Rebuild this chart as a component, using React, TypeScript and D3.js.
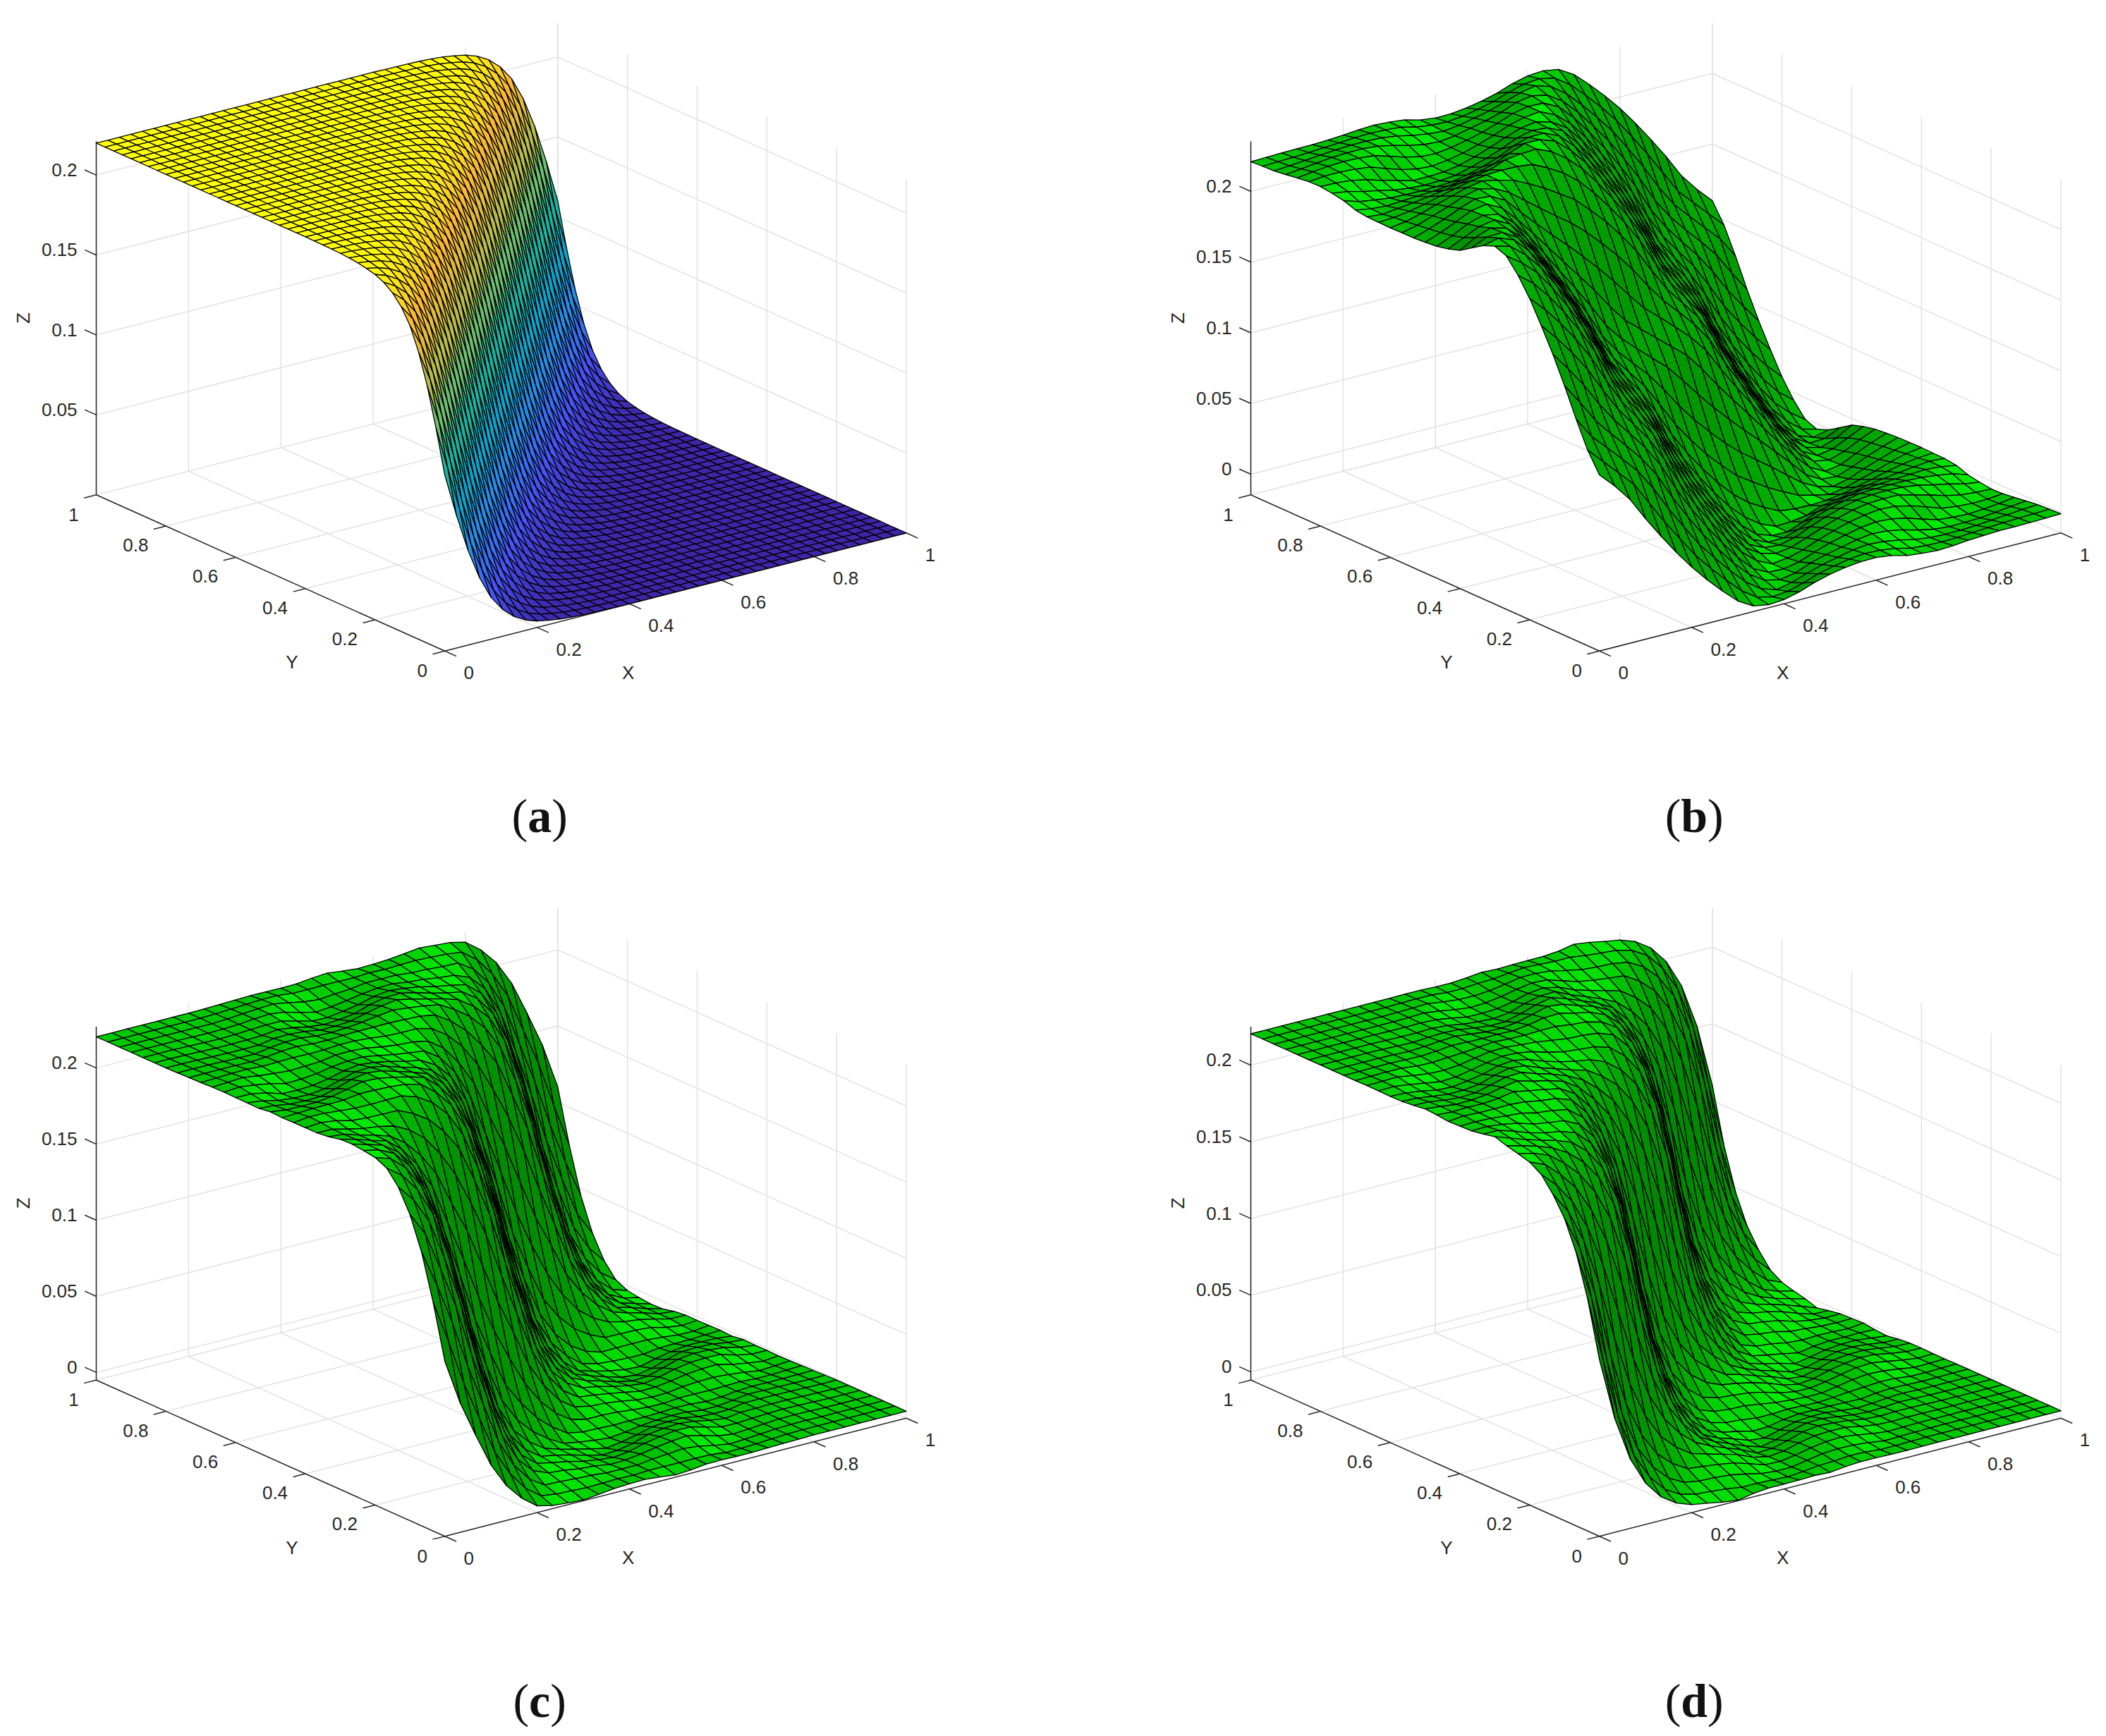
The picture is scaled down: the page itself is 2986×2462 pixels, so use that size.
import React, { useRef, useEffect } from "react";
import * as d3 from "d3";

// axis ticks
const xyTicks = [0, 0.2, 0.4, 0.6, 0.8, 1];
const zTicksA = [0.05, 0.1, 0.15, 0.2];
const zTicksB = [0, 0.05, 0.1, 0.15, 0.2];
const zTickLabels: Record<string, string> = { "0": "0", "0.05": "0.05", "0.1": "0.1", "0.15": "0.15", "0.2": "0.2" };

// height of the step read across the front, s = y - x (s >= 0, the other side is the mirror image)
const stopsA = [0, 0.02, 0.04, 0.06, 0.08, 0.1, 0.12, 0.14, 0.16, 0.18, 0.2, 0.24, 0.28, 0.32, 0.4, 1];
const stepA = [0.11, 0.1317, 0.1518, 0.1691, 0.183, 0.1938, 0.2017, 0.2074, 0.2114, 0.2142, 0.216, 0.2182, 0.2192, 0.2197, 0.22, 0.22];

const stopsB = [0, 0.05, 0.1, 0.15, 0.2, 0.25, 0.3, 0.35, 0.4, 0.45, 0.5, 0.55, 0.6, 0.65, 0.7, 0.75, 0.8, 0.85, 0.9, 1];
const stepB = [0.11, 0.128, 0.155, 0.178, 0.198, 0.216, 0.23, 0.235, 0.231, 0.225, 0.2205, 0.2175, 0.2165, 0.219, 0.224, 0.226, 0.225, 0.223, 0.2215, 0.221];

const stopsC = [0, 0.03, 0.05, 0.08, 0.12, 0.15, 0.19, 0.24, 0.3, 0.35, 0.4, 0.45, 0.5, 0.55, 0.6, 0.7, 1];
const stepC = [0.11, 0.14, 0.155, 0.18, 0.2003, 0.21, 0.2185, 0.2205, 0.2235, 0.223, 0.2205, 0.219, 0.2195, 0.2215, 0.2215, 0.2205, 0.2205];

const stopsD = [0, 0.02, 0.05, 0.08, 0.1, 0.13, 0.16, 0.2, 0.25, 0.3, 0.35, 0.4, 0.45, 0.5, 0.6, 1];
const stepD = [0.11, 0.135, 0.165, 0.185, 0.195, 0.205, 0.2125, 0.216, 0.219, 0.2235, 0.2225, 0.2205, 0.219, 0.2195, 0.2205, 0.2205];

// sideways wander of the front along t = x + y - 1 (t from -1 to 1)
const frontB = [0, 0.012, 0.028, 0.04, 0.038, 0.02, -0.005, -0.03, -0.045, -0.035, 0, 0.035, 0.045, 0.03, 0.005, -0.02, -0.038, -0.04, -0.028, -0.012, 0];
const frontC = [0, 0.01, 0.02, 0.015, -0.01, -0.025, -0.015, 0.012, 0.028, 0.018, 0, -0.018, -0.028, -0.012, 0.015, 0.025, 0.01, -0.015, -0.02, -0.01, 0];
const frontD = [0, -0.008, -0.015, -0.005, 0.012, 0.022, 0.012, -0.01, -0.024, -0.015, 0, 0.015, 0.024, 0.01, -0.012, -0.022, -0.012, 0.005, 0.015, 0.008, 0];

// ripple: size across the front and its strength along it
const swellStops = [0, 0.1, 0.2, 0.3, 0.4, 0.5, 0.6, 0.7, 0.8, 1];
const swellB = [0, 0.004, 0.008, 0.006, -0.004, -0.006, -0.004, 0.002, 0.002, 0];
const swellC = [0, 0.002, 0.005, 0.005, -0.003, -0.005, 0.002, 0.001, 0, 0];
const swellD = [0, 0.002, 0.005, 0.004, -0.003, -0.004, 0.001, 0, 0, 0];
const waveB = [0, 0.3, 0.6, 0.9, 0.6, 0, -0.5, -0.7, -0.2, 0.6, 1, 0.6, -0.2, -0.7, -0.5, 0, 0.6, 0.9, 0.6, 0.3, 0];
const waveC = [0, 0.4, 0.9, 0.4, -0.6, -0.8, 0, 0.9, 0.6, -0.5, -0.9, -0.5, 0.6, 0.9, 0, -0.8, -0.6, 0.4, 0.9, 0.4, 0];
const waveD = [0, 0.3, 0.8, 0.5, -0.5, -0.9, -0.1, 0.8, 0.8, -0.3, -0.9, -0.3, 0.8, 0.8, -0.1, -0.9, -0.5, 0.5, 0.8, 0.3, 0];

const parula = ["#3e26a8", "#4752f4", "#2a87ee", "#09a4d0", "#19b5a0", "#72be6e", "#cbbc3e", "#fbb92f", "#ffff05"];

const PLATEAU = 0.22;
const BOX_H = 501.3;
const xVec = { dx: 654.3, dy: -167.5 };
const yVec = { dx: -494.2, dy: -221.5 };

const panels = [
    { cap: "a", ox: 630.7, oy: 923.3, zDomain: [0, 0.2211], zTicks: zTicksA, cells: 40, stops: stopsA, step: stepA, front: null, swell: null, wave: null },
    { cap: "b", ox: 2267.7, oy: 923.3, zDomain: [-0.0146, 0.2354], zTicks: zTicksB, cells: 30, stops: stopsB, step: stepB, front: frontB, swell: swellB, wave: waveB },
    { cap: "c", ox: 630.7, oy: 2178.7, zDomain: [-0.005, 0.2272], zTicks: zTicksB, cells: 30, stops: stopsC, step: stepC, front: frontC, swell: swellC, wave: waveC },
    { cap: "d", ox: 2267.7, oy: 2178.7, zDomain: [-0.0053, 0.2252], zTicks: zTicksB, cells: 30, stops: stopsD, step: stepD, front: frontD, swell: swellD, wave: waveD },
];

const FONT = "'Liberation Sans', Arial, sans-serif";

export default function App() {
    const ref = useRef<SVGSVGElement | null>(null);

    useEffect(() => {
        if (!ref.current) return;
        const svg = d3.select(ref.current);
        svg.selectAll("*").remove();

        const lightLevel = d3.scaleLinear().domain([0.3, 0.63, 0.943, 1]).range([0.45, 0.62, 0.78, 0.92]).clamp(true);
        const L = [0.236, -0.236, 0.943];
        const zColor = d3.scaleLinear<string>()
            .domain(parula.map((_, i) => i / (parula.length - 1)))
            .range(parula)
            .clamp(true);

        panels.forEach((p) => {
            const g = svg.append("g");
            const xdx = d3.scaleLinear().domain([0, 1]).range([0, xVec.dx]);
            const xdy = d3.scaleLinear().domain([0, 1]).range([0, xVec.dy]);
            const ydx = d3.scaleLinear().domain([0, 1]).range([0, yVec.dx]);
            const ydy = d3.scaleLinear().domain([0, 1]).range([0, yVec.dy]);
            const zh = d3.scaleLinear().domain(p.zDomain).range([0, BOX_H]);
            const zMin = p.zDomain[0];
            const zMax = p.zDomain[1];

            const project = (x: number, y: number, z: number): [number, number] => [
                p.ox + xdx(x) + ydx(y),
                p.oy + xdy(x) + ydy(y) - zh(z),
            ];
            const seg = (a: [number, number], b: [number, number], color: string, w = 1.5) =>
                g.append("line")
                    .attr("x1", a[0]).attr("y1", a[1])
                    .attr("x2", b[0]).attr("y2", b[1])
                    .attr("stroke", color).attr("stroke-width", w);

            // back walls and floor
            const grid = "#e2e2e2";
            xyTicks.forEach((t) => {
                seg(project(t, 0, zMin), project(t, 1, zMin), grid);
                seg(project(0, t, zMin), project(1, t, zMin), grid);
                seg(project(t, 1, zMin), project(t, 1, zMax), grid);
                seg(project(1, t, zMin), project(1, t, zMax), grid);
            });
            p.zTicks.forEach((z) => {
                seg(project(0, 1, z), project(1, 1, z), grid);
                seg(project(1, 1, z), project(1, 0, z), grid);
            });

            // axes
            const ink = "#262626";
            seg(project(0, 0, zMin), project(1, 0, zMin), ink);
            seg(project(0, 1, zMin), project(0, 0, zMin), ink);
            seg(project(0, 1, zMin), project(0, 1, zMax), ink);
            const tx = -xVec.dx * 0.0265, ty = -xVec.dy * 0.0265;
            const ux = -yVec.dx * 0.033, uy = -yVec.dy * 0.033;
            const label = (px: number, py: number, text: string) =>
                g.append("text")
                    .attr("x", px).attr("y", py)
                    .attr("text-anchor", "middle")
                    .attr("dominant-baseline", "central")
                    .attr("font-family", FONT).attr("font-size", 26).attr("fill", ink)
                    .text(text);
            xyTicks.forEach((t) => {
                const short = t === 0 || t === 1;
                const a = project(t, 0, zMin);
                seg(a, [a[0] + ux, a[1] + uy], ink);
                label(a[0] + (short ? 34 : 45), a[1] + (short ? 31 : 31), String(t));
                const b = project(0, t, zMin);
                seg(b, [b[0] + tx, b[1] + ty], ink);
                label(b[0] + (short ? -32 : -43), b[1] + (short ? 28 : 27), String(t));
            });
            p.zTicks.forEach((z) => {
                const a = project(0, 1, z);
                seg(a, [a[0] - ux, a[1] - uy], ink);
                g.append("text")
                    .attr("x", a[0] - 27).attr("y", a[1] - 7.5)
                    .attr("text-anchor", "end")
                    .attr("dominant-baseline", "central")
                    .attr("font-family", FONT).attr("font-size", 26).attr("fill", ink)
                    .text(zTickLabels[String(z)]);
            });
            label(p.ox + 260, p.oy + 30.7, "X");
            label(p.ox - 216.8, p.oy + 16, "Y");
            const zLab = project(0, 1, zMin);
            g.append("text")
                .attr("transform", `translate(${zLab[0] - 104},${zLab[1] - 250.8}) rotate(-90)`)
                .attr("text-anchor", "middle")
                .attr("dominant-baseline", "central")
                .attr("font-family", FONT).attr("font-size", 26).attr("fill", ink)
                .text("Z");

            // surface heights
            const stepScale = d3.scaleLinear().domain(p.stops).range(p.step).clamp(true);
            const level = (s: number) => (s >= 0 ? stepScale(s) : PLATEAU - stepScale(-s));
            const frontAt = p.front ? d3.interpolateBasis(p.front) : () => 0;
            const waveAt = p.wave ? d3.interpolateBasis(p.wave) : () => 0;
            const swellScale = p.swell ? d3.scaleLinear().domain(swellStops).range(p.swell).clamp(true) : () => 0;
            const swellAt = (s: number) => (s >= 0 ? (swellScale as any)(s) : -(swellScale as any)(-s));
            const height = (x: number, y: number) => {
                const s = y - x;
                const u = (x + y) / 2;
                return level(s + frontAt(u)) + swellAt(s) * waveAt(u);
            };

            const grid1 = d3.range(p.cells + 1).map((i) => i / p.cells);
            const zs = grid1.map((x) => grid1.map((y) => height(x, y)));
            const cells: { i: number; j: number }[] = [];
            d3.range(p.cells).forEach((i) => d3.range(p.cells).forEach((j) => cells.push({ i, j })));
            cells.sort((a, b) => d3.descending(a.i + a.j, b.i + b.j));

            g.selectAll("path.cell")
                .data(cells)
                .enter()
                .append("path")
                .attr("class", "cell")
                .attr("d", (c) => {
                    const { i, j } = c;
                    const pts = [
                        project(grid1[i], grid1[j], zs[i][j]),
                        project(grid1[i + 1], grid1[j], zs[i + 1][j]),
                        project(grid1[i + 1], grid1[j + 1], zs[i + 1][j + 1]),
                        project(grid1[i], grid1[j + 1], zs[i][j + 1]),
                    ];
                    return d3.line()(pts) + "Z";
                })
                .attr("fill", (c) => {
                    const { i, j } = c;
                    const mean = (zs[i][j] + zs[i + 1][j] + zs[i + 1][j + 1] + zs[i][j + 1]) / 4;
                    if (!p.front) return zColor(mean / PLATEAU);
                    const h = 1 / p.cells;
                    const k = 4;
                    const dzx = (k * (zs[i + 1][j] + zs[i + 1][j + 1] - zs[i][j] - zs[i][j + 1])) / (2 * h);
                    const dzy = (k * (zs[i][j + 1] + zs[i + 1][j + 1] - zs[i][j] - zs[i + 1][j])) / (2 * h);
                    const len = Math.hypot(dzx, dzy, 1);
                    const nl = (-dzx * L[0] - dzy * L[1] + L[2]) / len;
                    const v = Math.round(255 * lightLevel(Math.abs(nl)));
                    return `rgb(0,${v},0)`;
                })
                .attr("stroke", "#000")
                .attr("stroke-width", 1.3)
                .attr("stroke-linejoin", "round");

            // caption
            const cap = g.append("text")
                .attr("x", p.ox + 134.5)
                .attr("y", p.oy + 233.5)
                .attr("text-anchor", "middle")
                .attr("dominant-baseline", "central")
                .attr("font-family", "'Liberation Serif', serif")
                .attr("font-size", 68)
                .attr("fill", "#111");
            cap.append("tspan").text("(");
            cap.append("tspan").attr("font-weight", "bold").text(p.cap);
            cap.append("tspan").text(")");
        });
    }, []);

    return (
        <svg
            ref={ref}
            width={2986}
            height={2462}
            style={{ position: "absolute", left: 0, top: 0, display: "block", background: "#fff" }}
        />
    );
}
